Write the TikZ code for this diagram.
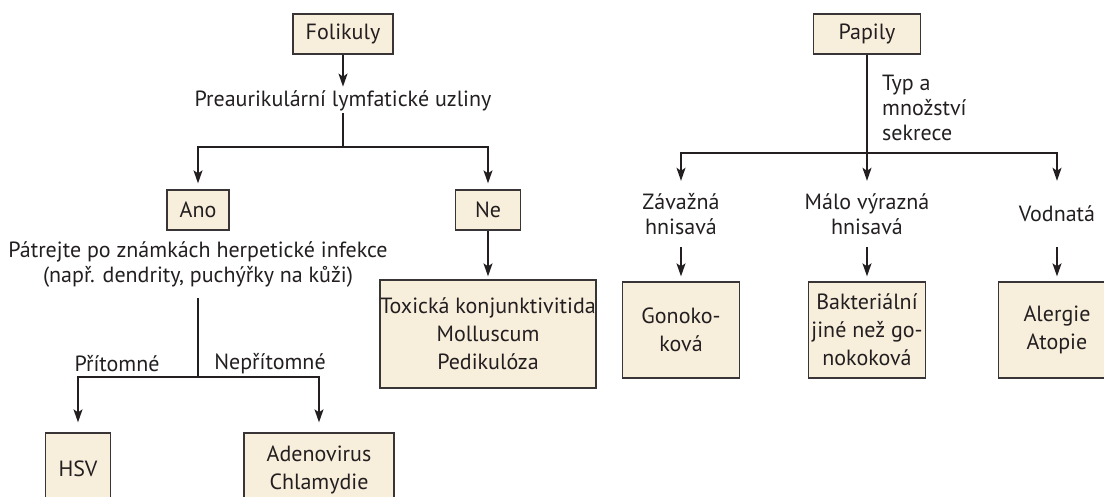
\documentclass[tikz,border=0pt]{standalone}
\usepackage{fontspec}
\setmainfont{PT Sans}
\usetikzlibrary{positioning,arrows.meta}
\definecolor{ink}  {HTML}{231F20}
\definecolor{cream}{HTML}{F8EEDC}
\tikzset{
  every node/.style={font=\fontsize{22}{25}\selectfont, text=ink},
  % --- nodes
  box/.style  = {draw=ink!90, fill=cream, line width=1.3pt, align=center, inner sep=0pt,
                 font=\fontsize{22}{28}\selectfont},
  txt/.style  = {align=center, inner sep=2pt},
  kind/.style = {txt, minimum height=66pt},
  % --- edges
  e/.style    = {-{Stealth[length=13pt,width=9pt,inset=3pt]}, line width=1.4pt, draw=ink},
  ln/.style   = {line width=1.4pt, draw=ink},
}
\begin{document}
\begin{tikzpicture}[x=1pt,y=-1pt]
  \useasboundingbox (0,0) rectangle (1104,497);
  \clip (0,0) rectangle (1104,497);
  % left tree
  \node[box, minimum width=100pt, minimum height=40pt] (fol) at (343,34) {Folikuly};
  \node[txt] (pre) at (343,101) {Preaurikulární lymfatické uzliny};
  \coordinate (j1) at (343,147);
  \node[box, minimum width=62pt, minimum height=40pt] (ano) at (198,210) {Ano};
  \node[box, minimum width=65pt, minimum height=40pt] (ne) at (488,210) {Ne};
  \node[txt] (pat) at (198,265) {Pátrejte po známkách herpetické infekce\\(např. dendrity, puchýřky na kůži)};
  \node[box, minimum width=216pt, minimum height=108pt] (tox) at (488,334) {Toxická konjunktivitida\\Molluscum\\Pedikulóza};
  \coordinate (j2) at (198,377);
  \node[txt] (pri) at (117,364) {Přítomné};
  \node[txt] (nep) at (270,364) {Nepřítomné};
  \node[box, minimum width=65pt, minimum height=72pt] (hsv) at (78,469) {HSV};
  \node[box, minimum width=150pt, minimum height=74pt] (ade) at (319,470) {Adenovirus\\Chlamydie};
  \draw[e, shorten >=2pt] (fol) -- (pre);
  \draw[ln] (pre) -- (j1);
  \draw[e, shorten >=6pt] (j1) -| (ano);
  \draw[e, shorten >=6pt] (j1) -| (ne);
  \draw[e, shorten >=3pt] (ne) -- (tox);
  \draw[ln, shorten <=8pt] (pat) -- (j2);
  \draw[e, shorten >=10pt] (j2) -| (hsv);
  \draw[e, shorten >=10pt] (j2) -| (ade);
  % right tree
  \node[box, minimum width=107pt, minimum height=40pt] (pap) at (867,34) {Papily};
  \node[txt, align=left, anchor=west] (typ) at (880,108) {Typ a\\množství\\sekrece};
  \coordinate (j3) at (867,153);
  \node[kind] (zav) at (681,214) {Závažná\\hnisavá};
  \node[kind] (mal) at (867,214) {Málo výrazná\\hnisavá};
  \node[kind] (vod) at (1057,214) {Vodnatá};
  \node[box, minimum width=117pt, minimum height=96pt] (gon) at (681,330) {Gonoko-\\ková};
  \node[box, minimum width=117pt, minimum height=96pt] (bak) at (867,330) {Bakteriální\\jiné než go-\\nokoková};
  \node[box, minimum width=117pt, minimum height=96pt] (ale) at (1057,330) {Alergie\\Atopie};
  \draw[ln] (pap) -- (j3);
  \draw[e] (j3) -| (zav);
  \draw[e] (j3) -- (mal);
  \draw[e] (j3) -| (vod);
  \draw[e, shorten >=5pt] (zav) -- (gon);
  \draw[e, shorten >=5pt] (mal) -- (bak);
  \draw[e, shorten >=5pt] (vod) -- (ale);
\end{tikzpicture}
\end{document}
